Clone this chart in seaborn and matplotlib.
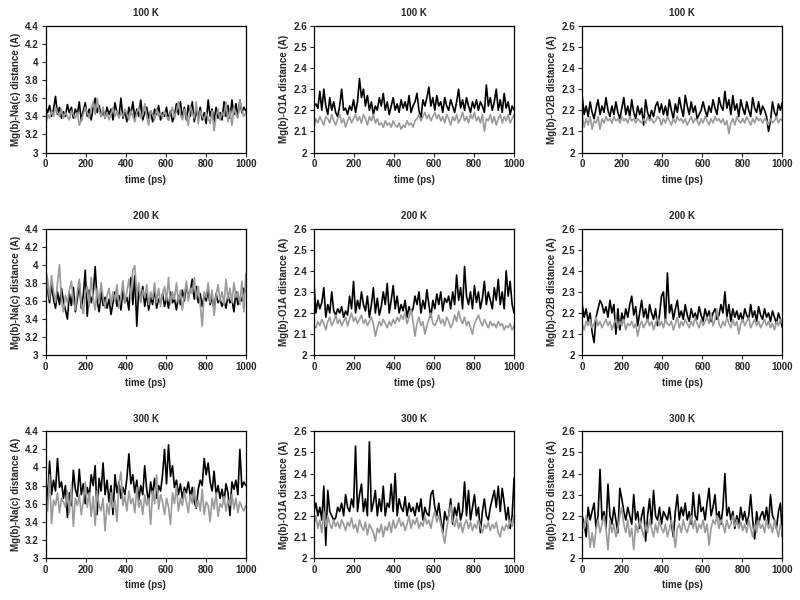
import numpy as np
import seaborn as sns
import matplotlib.pyplot as plt
from matplotlib.ticker import FuncFormatter

# samples span 0..1000 ps evenly
t_start, t_end = 0, 1000

temps = ["100 K", "200 K", "300 K"]
ylabels = ["Mg(b)-Na(c) distance (A)", "Mg(b)-O1A distance (A)", "Mg(b)-O2B distance (A)"]

# ---- 100 K ----
na_100_black = [3.50, 3.44, 3.52, 3.40, 3.48, 3.62, 3.42, 3.50, 3.38, 3.45, 3.40,
                3.53, 3.44, 3.50, 3.38, 3.48, 3.42, 3.56, 3.35, 3.46, 3.55,
                3.40, 3.48, 3.36, 3.50, 3.60, 3.44, 3.52, 3.40, 3.46, 3.38,
                3.50, 3.42, 3.48, 3.36, 3.55, 3.44, 3.40, 3.60, 3.38, 3.46,
                3.34, 3.50, 3.42, 3.56, 3.38, 3.48, 3.40, 3.58, 3.36, 3.44,
                3.50, 3.38, 3.46, 3.34, 3.48, 3.42, 3.52, 3.36, 3.44, 3.40,
                3.50, 3.36, 3.46, 3.34, 3.40, 3.54, 3.42, 3.56, 3.38, 3.50,
                3.36, 3.52, 3.40, 3.56, 3.34, 3.46, 3.38, 3.50, 3.36, 3.44,
                3.32, 3.58, 3.40, 3.48, 3.34, 3.50, 3.38, 3.44, 3.36, 3.56,
                3.40, 3.52, 3.38, 3.58, 3.42, 3.54, 3.40, 3.58, 3.44, 3.50, 3.46]
na_100_gray = [3.30, 3.42, 3.38, 3.46, 3.40, 3.50, 3.44, 3.40, 3.48, 3.38, 3.44,
               3.40, 3.36, 3.46, 3.42, 3.38, 3.44, 3.30, 3.36, 3.42, 3.50,
               3.44, 3.38, 3.48, 3.56, 3.42, 3.60, 3.46, 3.40, 3.50, 3.38,
               3.44, 3.36, 3.42, 3.50, 3.40, 3.46, 3.38, 3.44, 3.40, 3.48,
               3.42, 3.36, 3.46, 3.40, 3.34, 3.44, 3.50, 3.38, 3.42, 3.54,
               3.40, 3.30, 3.46, 3.42, 3.36, 3.48, 3.40, 3.44, 3.38, 3.46,
               3.40, 3.36, 3.44, 3.50, 3.38, 3.46, 3.56, 3.42, 3.36, 3.48,
               3.40, 3.30, 3.52, 3.44, 3.38, 3.56, 3.32, 3.46, 3.40, 3.36,
               3.44, 3.38, 3.32, 3.46, 3.24, 3.40, 3.48, 3.36, 3.44, 3.40,
               3.56, 3.34, 3.46, 3.30, 3.50, 3.42, 3.38, 3.58, 3.46, 3.40, 3.44]
o1a_100_black = [2.22, 2.23, 2.21, 2.29, 2.20, 2.30, 2.22, 2.18, 2.26, 2.20, 2.24,
                 2.19, 2.17, 2.22, 2.30, 2.20, 2.21, 2.18, 2.22, 2.20, 2.25,
                 2.19, 2.24, 2.35, 2.26, 2.30, 2.22, 2.27, 2.20, 2.24, 2.18,
                 2.22, 2.20, 2.26, 2.22, 2.28, 2.20, 2.24, 2.18, 2.22, 2.26,
                 2.20, 2.23, 2.19, 2.25, 2.21, 2.24, 2.20, 2.27, 2.19, 2.22,
                 2.24, 2.28, 2.20, 2.16, 2.25, 2.22, 2.26, 2.31, 2.22, 2.26,
                 2.20, 2.27, 2.22, 2.24, 2.19, 2.26, 2.22, 2.20, 2.25, 2.22,
                 2.19, 2.24, 2.30, 2.21, 2.25, 2.20, 2.26, 2.22, 2.19, 2.24,
                 2.21, 2.25, 2.20, 2.24, 2.22, 2.19, 2.32, 2.22, 2.26, 2.20,
                 2.24, 2.30, 2.20, 2.25, 2.19, 2.28, 2.21, 2.24, 2.18, 2.22, 2.20]
o1a_100_gray = [2.12, 2.16, 2.14, 2.17, 2.15, 2.13, 2.17, 2.16, 2.14, 2.18, 2.15,
                2.13, 2.16, 2.18, 2.14, 2.16, 2.12, 2.15, 2.17, 2.14, 2.16,
                2.18, 2.15, 2.17, 2.14, 2.18, 2.16, 2.13, 2.17, 2.15, 2.18,
                2.14, 2.16, 2.13, 2.14, 2.12, 2.15, 2.13, 2.14, 2.12, 2.15,
                2.13, 2.12, 2.14, 2.11, 2.13, 2.12, 2.15, 2.13, 2.14, 2.12,
                2.15, 2.16, 2.18, 2.15, 2.17, 2.19, 2.16, 2.18, 2.15, 2.17,
                2.19, 2.16, 2.18, 2.15, 2.17, 2.14, 2.18, 2.16, 2.13, 2.17,
                2.15, 2.18, 2.14, 2.16, 2.19, 2.15, 2.17, 2.14, 2.18, 2.16,
                2.19, 2.15, 2.17, 2.14, 2.18, 2.10, 2.16, 2.15, 2.18, 2.14,
                2.17, 2.13, 2.16, 2.18, 2.14, 2.17, 2.15, 2.18, 2.14, 2.16, 2.18]
o2b_100_black = [2.27, 2.18, 2.22, 2.17, 2.24, 2.19, 2.16, 2.21, 2.25, 2.18, 2.22,
                 2.19, 2.26, 2.20, 2.17, 2.22, 2.18, 2.24, 2.19, 2.16, 2.21,
                 2.26, 2.18, 2.22, 2.17, 2.25, 2.19, 2.16, 2.22, 2.18, 2.21,
                 2.13, 2.25, 2.19, 2.16, 2.20, 2.17, 2.22, 2.24, 2.19, 2.23,
                 2.18, 2.22, 2.17, 2.25, 2.20, 2.16, 2.23, 2.19, 2.26, 2.21,
                 2.17, 2.27, 2.22, 2.18, 2.24, 2.19, 2.22, 2.16, 2.18, 2.20,
                 2.24, 2.20, 2.17, 2.22, 2.19, 2.25, 2.21, 2.18, 2.26, 2.22,
                 2.20, 2.29, 2.21, 2.25, 2.18, 2.27, 2.20, 2.23, 2.17, 2.25,
                 2.21, 2.18, 2.24, 2.20, 2.17, 2.26, 2.21, 2.19, 2.24, 2.18,
                 2.22, 2.20, 2.17, 2.10, 2.15, 2.24, 2.19, 2.17, 2.23, 2.20, 2.24]
o2b_100_gray = [2.18, 2.12, 2.16, 2.13, 2.17, 2.11, 2.15, 2.14, 2.17, 2.11, 2.16,
                2.14, 2.17, 2.15, 2.16, 2.14, 2.17, 2.15, 2.16, 2.14, 2.17,
                2.15, 2.16, 2.14, 2.17, 2.15, 2.16, 2.14, 2.16, 2.15, 2.14,
                2.16, 2.14, 2.17, 2.15, 2.16, 2.14, 2.15, 2.17, 2.16, 2.13,
                2.16, 2.14, 2.17, 2.15, 2.13, 2.16, 2.14, 2.17, 2.15, 2.16,
                2.14, 2.16, 2.13, 2.15, 2.17, 2.14, 2.16, 2.15, 2.13, 2.16,
                2.14, 2.17, 2.15, 2.13, 2.16, 2.14, 2.17, 2.15, 2.16, 2.14,
                2.16, 2.13, 2.15, 2.09, 2.14, 2.16, 2.13, 2.17, 2.15, 2.14,
                2.16, 2.14, 2.17, 2.15, 2.13, 2.16, 2.14, 2.17, 2.15, 2.16,
                2.14, 2.16, 2.15, 2.13, 2.16, 2.14, 2.15, 2.17, 2.14, 2.16, 2.15]

# ---- 200 K ----
na_200_black = [4.00, 3.72, 3.58, 3.78, 3.62, 3.52, 3.70, 3.56, 3.74, 3.60, 3.50,
                3.40, 3.68, 3.55, 3.75, 3.48, 3.62, 3.80, 3.52, 3.66, 3.94,
                3.43, 3.72, 3.58, 3.68, 3.98, 3.60, 3.48, 3.70, 3.55, 3.64,
                3.52, 3.62, 3.45, 3.58, 3.70, 3.54, 3.66, 3.50, 3.72, 3.58,
                3.64, 3.50, 3.86, 3.56, 3.88, 3.32, 3.74, 3.60, 3.76, 3.54,
                3.68, 3.50, 3.64, 3.56, 3.74, 3.52, 3.62, 3.58, 3.68, 3.54,
                3.64, 3.52, 3.70, 3.58, 3.62, 3.50, 3.66, 3.56, 3.72, 3.60,
                3.78, 3.64, 3.72, 3.84, 3.62, 3.76, 3.58, 3.68, 3.54, 3.66,
                3.60, 3.72, 3.56, 3.64, 3.50, 3.68, 3.58, 3.62, 3.54, 3.60,
                3.52, 3.66, 3.58, 3.62, 3.48, 3.70, 3.56, 3.64, 3.60, 3.74, 3.70]
na_200_gray = [3.56, 3.84, 3.62, 3.88, 3.70, 3.58, 3.80, 4.00, 3.62, 3.48, 3.66,
               3.58, 3.72, 3.82, 3.60, 3.50, 3.70, 3.84, 3.56, 3.46, 3.68,
               3.76, 3.54, 3.86, 3.62, 3.50, 3.74, 3.58, 3.80, 3.64, 3.52,
               3.66, 3.74, 3.56, 3.70, 3.60, 3.78, 3.52, 3.64, 3.82, 3.58,
               3.70, 3.84, 3.62, 3.94, 3.99, 3.66, 3.80, 3.58, 3.72, 3.64,
               3.78, 3.56, 3.70, 3.62, 3.80, 3.58, 3.74, 3.54, 3.68, 3.76,
               3.60, 3.86, 3.56, 3.70, 3.62, 3.80, 3.58, 3.72, 3.50, 3.66,
               3.82, 3.60, 3.74, 3.68, 3.86, 3.62, 3.76, 3.56, 3.32, 3.70,
               3.64, 3.80, 3.58, 3.72, 3.44, 3.66, 3.78, 3.60, 3.70, 3.56,
               3.84, 3.62, 3.74, 3.58, 3.80, 3.64, 3.70, 3.56, 3.82, 3.48, 3.90]
o1a_200_black = [2.35, 2.20, 2.26, 2.22, 2.25, 2.32, 2.18, 2.24, 2.20, 2.30, 2.21,
                 2.19, 2.22, 2.20, 2.23, 2.18, 2.21, 2.19, 2.28, 2.22, 2.35,
                 2.20, 2.26, 2.22, 2.30, 2.24, 2.21, 2.28, 2.18, 2.24, 2.32,
                 2.20, 2.27, 2.19, 2.23, 2.30, 2.24, 2.34, 2.20, 2.26, 2.33,
                 2.22, 2.28, 2.20, 2.24, 2.21, 2.26, 2.18, 2.23, 2.20, 2.22,
                 2.28, 2.24, 2.30, 2.20, 2.26, 2.22, 2.31, 2.24, 2.18, 2.26,
                 2.22, 2.29, 2.24, 2.30, 2.21, 2.27, 2.25, 2.28, 2.22, 2.30,
                 2.24, 2.38, 2.26, 2.32, 2.22, 2.42, 2.28, 2.24, 2.30, 2.22,
                 2.33, 2.25, 2.30, 2.22, 2.27, 2.35, 2.24, 2.30, 2.26, 2.22,
                 2.32, 2.26, 2.36, 2.24, 2.30, 2.22, 2.40, 2.28, 2.35, 2.24, 2.20]
o1a_200_gray = [2.14, 2.13, 2.16, 2.14, 2.17, 2.15, 2.12, 2.16, 2.18, 2.14, 2.16,
                2.19, 2.15, 2.17, 2.14, 2.16, 2.18, 2.14, 2.17, 2.20, 2.16,
                2.18, 2.15, 2.17, 2.19, 2.15, 2.17, 2.14, 2.16, 2.18, 2.15,
                2.09, 2.13, 2.16, 2.14, 2.17, 2.15, 2.13, 2.16, 2.14, 2.17,
                2.15, 2.18, 2.16, 2.19, 2.17, 2.20, 2.15, 2.18, 2.22, 2.16,
                2.09, 2.15, 2.18, 2.14, 2.16, 2.10, 2.14, 2.17, 2.20, 2.15,
                2.14, 2.16, 2.19, 2.15, 2.17, 2.14, 2.18, 2.16, 2.13, 2.15,
                2.19, 2.16, 2.21, 2.17, 2.15, 2.18, 2.14, 2.16, 2.13, 2.10,
                2.15, 2.17, 2.19, 2.16, 2.14, 2.17, 2.15, 2.13, 2.16, 2.14,
                2.15, 2.13, 2.16, 2.14, 2.15, 2.12, 2.14, 2.13, 2.15, 2.12, 2.14]
o2b_200_black = [2.24, 2.18, 2.22, 2.16, 2.20, 2.11, 2.06, 2.18, 2.22, 2.26, 2.24,
                 2.20, 2.23, 2.18, 2.26, 2.20, 2.24, 2.10, 2.22, 2.12, 2.20,
                 2.16, 2.22, 2.18, 2.24, 2.28, 2.19, 2.23, 2.14, 2.20, 2.26,
                 2.18, 2.22, 2.16, 2.24, 2.20, 2.17, 2.22, 2.14, 2.19, 2.28,
                 2.30, 2.16, 2.39, 2.20, 2.24, 2.17, 2.22, 2.26, 2.18, 2.21,
                 2.17, 2.24, 2.19, 2.16, 2.22, 2.18, 2.20, 2.17, 2.23, 2.19,
                 2.16, 2.22, 2.18, 2.21, 2.16, 2.20, 2.22, 2.17, 2.19, 2.24,
                 2.20, 2.30, 2.18, 2.24, 2.16, 2.22, 2.18, 2.21, 2.17, 2.20,
                 2.16, 2.22, 2.19, 2.17, 2.24, 2.18, 2.21, 2.16, 2.23, 2.19,
                 2.17, 2.22, 2.18, 2.20, 2.16, 2.21, 2.18, 2.15, 2.20, 2.17, 2.13]
o2b_200_gray = [2.15, 2.12, 2.16, 2.14, 2.17, 2.13, 2.15, 2.18, 2.14, 2.16, 2.13,
                2.15, 2.17, 2.14, 2.16, 2.12, 2.15, 2.17, 2.13, 2.16, 2.14,
                2.17, 2.12, 2.15, 2.14, 2.16, 2.13, 2.15, 2.09, 2.14, 2.16,
                2.13, 2.15, 2.17, 2.14, 2.16, 2.12, 2.15, 2.18, 2.14, 2.16,
                2.13, 2.17, 2.15, 2.14, 2.16, 2.12, 2.15, 2.18, 2.13, 2.16,
                2.14, 2.17, 2.15, 2.13, 2.16, 2.14, 2.18, 2.15, 2.13, 2.17,
                2.14, 2.16, 2.18, 2.15, 2.20, 2.14, 2.17, 2.22, 2.15, 2.13,
                2.16, 2.14, 2.18, 2.15, 2.13, 2.17, 2.14, 2.16, 2.10, 2.15,
                2.17, 2.14, 2.16, 2.18, 2.13, 2.15, 2.17, 2.14, 2.16, 2.13,
                2.15, 2.17, 2.14, 2.16, 2.13, 2.15, 2.12, 2.16, 2.14, 2.17, 2.15]

# ---- 300 K ----
na_300_black = [3.90, 3.62, 4.07, 3.70, 3.86, 3.74, 4.10, 3.78, 3.84, 3.66, 3.80,
                3.45, 3.72, 3.58, 3.97, 3.76, 3.68, 3.98, 3.70, 3.82, 3.60,
                3.78, 3.68, 3.92, 3.80, 4.02, 3.48, 3.88, 3.74, 4.05, 3.70,
                3.86, 3.62, 3.80, 3.48, 3.92, 3.72, 3.84, 3.66, 3.78, 3.70,
                3.88, 4.15, 3.82, 3.92, 3.72, 3.86, 3.64, 3.80, 3.70, 4.02,
                3.76, 3.62, 3.84, 3.70, 3.88, 3.66, 3.80, 3.74, 3.92, 4.20,
                3.82, 4.25, 3.90, 4.02, 3.78, 3.86, 3.70, 3.82, 3.66, 3.78,
                3.72, 3.84, 3.68, 3.78, 3.62, 3.55, 3.76, 3.86, 3.80, 4.10,
                3.92, 4.05, 3.84, 3.74, 3.96, 3.70, 3.80, 3.66, 3.76, 3.62,
                3.82, 3.72, 3.47, 3.84, 3.76, 3.86, 3.70, 4.20, 3.78, 3.84, 3.80]
na_300_gray = [3.70, 3.52, 3.92, 3.38, 3.64, 3.58, 3.72, 3.50, 3.66, 3.62, 3.56,
               3.74, 3.50, 3.80, 3.35, 3.66, 3.58, 3.70, 3.48, 3.62, 3.84,
               3.56, 3.72, 3.46, 3.68, 3.36, 3.74, 3.58, 3.52, 3.66, 3.30,
               3.60, 3.48, 3.72, 3.56, 3.64, 3.40, 3.82, 3.95, 3.58, 3.68,
               3.52, 3.74, 3.60, 3.66, 3.50, 3.78, 3.56, 3.64, 3.48, 3.70,
               3.58, 3.66, 3.37, 3.74, 3.60, 3.92, 3.54, 3.70, 3.62, 3.48,
               3.66, 3.56, 3.37, 3.72, 3.60, 3.80, 3.52, 3.66, 3.58, 3.74,
               3.62, 3.50, 3.70, 3.60, 3.78, 3.56, 3.64, 3.52, 3.76, 3.48,
               3.62, 3.58, 3.40, 3.66, 3.54, 3.72, 3.46, 3.60, 3.56, 3.68,
               3.52, 3.64, 3.58, 3.70, 3.54, 3.66, 3.50, 3.62, 3.56, 3.52, 3.58]
o1a_300_black = [2.22, 2.26, 2.20, 2.24, 2.18, 2.34, 2.06, 2.32, 2.22, 2.20, 2.18,
                 2.19, 2.24, 2.22, 2.26, 2.20, 2.30, 2.24, 2.22, 2.28, 2.24,
                 2.53, 2.22, 2.30, 2.35, 2.22, 2.28, 2.20, 2.55, 2.22, 2.26,
                 2.32, 2.20, 2.28, 2.22, 2.34, 2.20, 2.26, 2.24, 2.35, 2.22,
                 2.40, 2.20, 2.28, 2.24, 2.22, 2.29, 2.20, 2.26, 2.22, 2.24,
                 2.20, 2.26, 2.22, 2.28, 2.18, 2.24, 2.21, 2.20, 2.30, 2.32,
                 2.24, 2.20, 2.26, 2.18, 2.12, 2.22, 2.18, 2.20, 2.28, 2.16,
                 2.24, 2.20, 2.26, 2.18, 2.22, 2.36, 2.20, 2.32, 2.18, 2.24,
                 2.30, 2.20, 2.24, 2.12, 2.22, 2.28, 2.20, 2.18, 2.24, 2.28,
                 2.32, 2.24, 2.34, 2.22, 2.33, 2.26, 2.18, 2.24, 2.14, 2.20, 2.38]
o1a_300_gray = [2.16, 2.20, 2.14, 2.18, 2.12, 2.22, 2.15, 2.20, 2.16, 2.14, 2.18,
                2.15, 2.17, 2.14, 2.18, 2.16, 2.13, 2.17, 2.15, 2.19, 2.14,
                2.16, 2.12, 2.18, 2.15, 2.13, 2.17, 2.11, 2.16, 2.14, 2.12,
                2.08, 2.14, 2.12, 2.16, 2.10, 2.15, 2.13, 2.17, 2.12, 2.18,
                2.14, 2.16, 2.19, 2.15, 2.17, 2.13, 2.16, 2.20, 2.14, 2.18,
                2.16, 2.19, 2.14, 2.17, 2.15, 2.20, 2.16, 2.18, 2.14, 2.19,
                2.22, 2.17, 2.20, 2.16, 2.12, 2.07, 2.14, 2.20, 2.25, 2.18,
                2.15, 2.19, 2.14, 2.17, 2.12, 2.16, 2.18, 2.14, 2.17, 2.13,
                2.16, 2.14, 2.18, 2.15, 2.12, 2.16, 2.14, 2.17, 2.13, 2.16,
                2.14, 2.17, 2.12, 2.10, 2.15, 2.13, 2.16, 2.14, 2.18, 2.15, 2.20]
o2b_300_black = [2.20, 2.16, 2.10, 2.24, 2.18, 2.22, 2.26, 2.14, 2.20, 2.42, 2.18,
                 2.22, 2.14, 2.35, 2.20, 2.16, 2.24, 2.18, 2.12, 2.33, 2.28,
                 2.22, 2.18, 2.24, 2.20, 2.16, 2.30, 2.18, 2.22, 2.14, 2.20,
                 2.24, 2.08, 2.20, 2.28, 2.16, 2.32, 2.20, 2.18, 2.24, 2.16,
                 2.22, 2.20, 2.18, 2.24, 2.16, 2.10, 2.22, 2.30, 2.18, 2.24,
                 2.20, 2.26, 2.18, 2.22, 2.16, 2.31, 2.20, 2.18, 2.30, 2.22,
                 2.24, 2.18, 2.26, 2.33, 2.20, 2.24, 2.30, 2.18, 2.22, 2.16,
                 2.24, 2.40, 2.20, 2.24, 2.18, 2.22, 2.14, 2.20, 2.16, 2.24,
                 2.18, 2.22, 2.16, 2.20, 2.30, 2.18, 2.09, 2.22, 2.16, 2.20,
                 2.22, 2.18, 2.24, 2.16, 2.30, 2.20, 2.18, 2.14, 2.22, 2.26, 2.10]
o2b_300_gray = [2.18, 2.14, 2.20, 2.16, 2.05, 2.12, 2.05, 2.14, 2.18, 2.12, 2.16,
                2.20, 2.14, 2.04, 2.18, 2.12, 2.16, 2.10, 2.14, 2.20, 2.24,
                2.16, 2.12, 2.18, 2.10, 2.14, 2.04, 2.16, 2.12, 2.18, 2.14,
                2.10, 2.16, 2.12, 2.18, 2.14, 2.10, 2.16, 2.12, 2.18, 2.14,
                2.12, 2.16, 2.10, 2.14, 2.18, 2.12, 2.05, 2.14, 2.16, 2.12,
                2.18, 2.14, 2.12, 2.16, 2.20, 2.14, 2.18, 2.12, 2.16, 2.14,
                2.18, 2.12, 2.16, 2.06, 2.14, 2.18, 2.16, 2.20, 2.14, 2.18,
                2.16, 2.12, 2.18, 2.14, 2.16, 2.20, 2.15, 2.18, 2.14, 2.17,
                2.13, 2.16, 2.12, 2.18, 2.14, 2.10, 2.16, 2.12, 2.18, 2.14,
                2.16, 2.12, 2.18, 2.14, 2.16, 2.12, 2.18, 2.14, 2.10, 2.16, 2.12]

panels = [
    [(na_100_black, na_100_gray), (o1a_100_black, o1a_100_gray), (o2b_100_black, o2b_100_gray)],
    [(na_200_black, na_200_gray), (o1a_200_black, o1a_200_gray), (o2b_200_black, o2b_200_gray)],
    [(na_300_black, na_300_gray), (o1a_300_black, o1a_300_gray), (o2b_300_black, o2b_300_gray)],
]

sns.set_style("ticks")
plt.rcParams['font.family'] = ['Liberation Sans', 'DejaVu Sans']
plt.rcParams['font.weight'] = 'bold'
plt.rcParams['axes.labelweight'] = 'bold'
plt.rcParams['axes.titleweight'] = 'bold'

fig, axes = plt.subplots(3, 3, figsize=(8, 6), dpi=100)
fig.subplots_adjust(left=0.057, right=0.978, top=0.957, bottom=0.07,
                    wspace=0.34, hspace=0.6)

fmt = FuncFormatter(lambda v, p: f"{v:g}")

for r in range(3):
    for c in range(3):
        ax = axes[r, c]
        black, gray = panels[r][c]
        t_black = np.linspace(t_start, t_end, len(black))
        t_gray = np.linspace(t_start, t_end, len(gray))
        sns.lineplot(x=t_black, y=black, color="black", linewidth=1.2, ax=ax)
        sns.lineplot(x=t_gray, y=gray, color="#9a9a9a", linewidth=1.2, ax=ax)
        ax.set_xlim(0, 1000)
        ax.set_xticks(np.arange(0, 1001, 200))
        if c == 0:
            ax.set_ylim(3, 4.4)
            ax.set_yticks(np.arange(3, 4.41, 0.2))
        else:
            ax.set_ylim(2, 2.6)
            ax.set_yticks(np.arange(2, 2.61, 0.1))
        ax.yaxis.set_major_formatter(fmt)
        ax.set_title(temps[r], fontsize=7, fontweight="bold", pad=7)
        ax.set_xlabel("time (ps)", fontsize=7, fontweight="bold", labelpad=4)
        ax.set_ylabel(ylabels[c], fontsize=7, fontweight="bold", labelpad=3)
        ax.tick_params(axis="both", labelsize=7, length=3, width=0.8, pad=2)
        for lab in ax.get_xticklabels() + ax.get_yticklabels():
            lab.set_fontweight("bold")
        for sp in ax.spines.values():
            sp.set_visible(True)
            sp.set_linewidth(0.9)
            sp.set_color("black")

fig.savefig("out.png", dpi=100)
